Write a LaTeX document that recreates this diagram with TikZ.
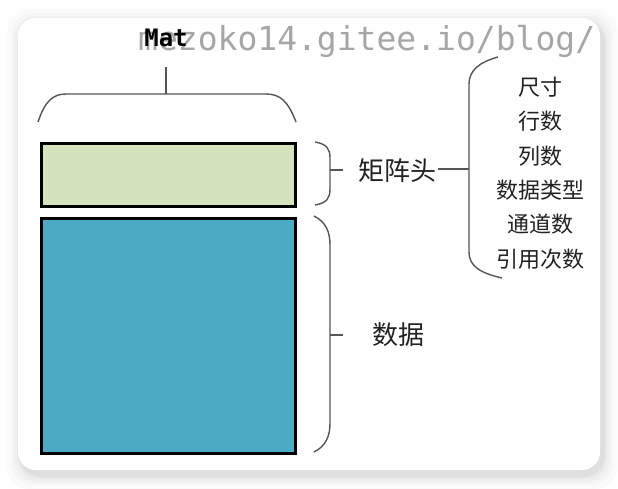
\documentclass[tikz,border=0pt]{standalone}
\usepackage{fontspec}
\usepackage{tikz}
\newfontfamily\cjk{Noto Sans CJK SC}
\newfontfamily\wmfont{DejaVu Sans Mono}
\definecolor{headgreen}{HTML}{D5E3BD}
\definecolor{datablue}{HTML}{4BAAC4}
\definecolor{ink}{HTML}{222222}
\definecolor{bracegray}{HTML}{555555}

\tikzset{
    part/.style={draw=black, line width=2.6pt, inner sep=0pt, anchor=north west},
    brace/.style={draw=bracegray, line width=1.4pt},
    label/.style={text=ink, font=\cjk\fontsize{26}{30}\selectfont, inner sep=0pt},
    item/.style={text=ink, font=\cjk\fontsize{22}{26}\selectfont, inner sep=0pt},
}

\begin{document}
\begin{tikzpicture}[x=1pt,y=-1pt]
    \useasboundingbox (0,0) rectangle (618,488);
    \fill[white] (0,0) rectangle (618,488);
    % card with soft shadow
    \foreach \s/\o in {14/0.015, 10/0.02, 7/0.025, 4/0.03, 2/0.035}{
        \fill[black, opacity=\o, rounded corners=22pt] (18-\s+3,18-\s+5) rectangle (600+\s+3,470+\s+5);
    }
    \fill[white, rounded corners=18pt] (18,18) rectangle (600,470);

    % the two parts of Mat
    \node[part, fill=headgreen, minimum width=254pt, minimum height=63pt](head) at (40,142) {};
    \node[part, fill=datablue, minimum width=254pt, minimum height=235pt](data) at (40,217) {};

    % title and watermark
    \node[text=gray!70, font=\wmfont\fontsize{33}{36}\selectfont, anchor=west, inner sep=0pt](wm) at (138,41) {mezoko14.gitee.io/blog/};
    \node[text=black, font=\wmfont\bfseries\fontsize{24}{28}\selectfont, inner sep=0pt](mat) at (166,38) {Mat};
    \coordinate(mattop) at (166,67);

    % brace over Mat
    \path[brace] (38,122) .. controls (45,101) and (53,94) .. (66,94) -- (266,94)
        .. controls (280,94) and (288,101) .. (296,122);
    \draw[brace] (166,94) -- (mattop);

    % braces on the right of the parts
    \path[brace] (315,142) .. controls (327,144) and (330,149) .. (330,158) -- (330,189)
        .. controls (330,198) and (327,203) .. (315,205);
    \path[brace] (314,216) .. controls (326,222) and (330,232) .. (330,245) -- (330,423)
        .. controls (330,436) and (326,446) .. (314,452);
    \coordinate(headtip) at (330,170);
    \coordinate(datatip) at (330,335);
    \node[label](headlbl) at (397,171) {矩阵头};
    \node[label](datalbl) at (398,335) {数据};
    \draw[brace] (headtip) -- +(13,0);
    \draw[brace] (datatip) -- +(13,0);

    % fields of the header
    \path[brace] (498,57) .. controls (480,62) and (469,70) .. (469,84) -- (469,252)
        .. controls (469,266) and (480,273) .. (502,278);
    \coordinate(listtip) at (469,169);
    \draw[brace] (headlbl.east) ++(2,-2) coordinate(hl) (hl) -- (listtip);

    \foreach \k/\t in {0/尺寸, 1/行数, 2/列数, 3/数据类型, 4/通道数, 5/引用次数}{
        \node[item](f\k) at (540,87+34.4*\k) {\t};
    }
\end{tikzpicture}
\end{document}
